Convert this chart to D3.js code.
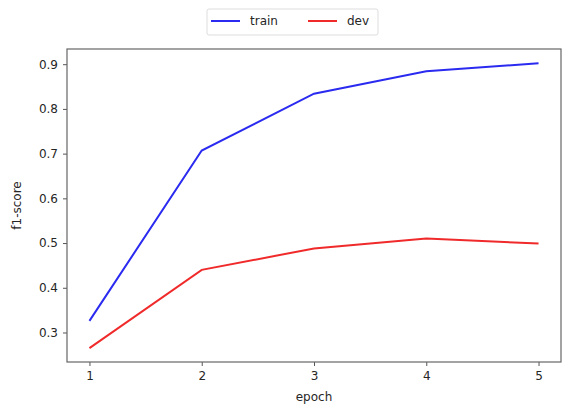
<!DOCTYPE html>
<html>
<head>
<meta charset="utf-8">
<script src="https://cdn.jsdelivr.net/npm/d3@7"></script>
<style>
  body { margin: 0; background: #fff; }
  svg text { font-family: "DejaVu Sans", sans-serif; fill: #262626; }
</style>
</head>
<body>
<svg id="chart" width="562" height="406"></svg>
<script>
var epochs = [1, 2, 3, 4, 5];
var trainScores = [0.326, 0.707, 0.834, 0.884, 0.902];
var devScores = [0.265, 0.440, 0.488, 0.510, 0.499];
var yTicks = [0.3, 0.4, 0.5, 0.6, 0.7, 0.8, 0.9];

var svg = d3.select("#chart");
var box = { left: 67, top: 49, right: 561, bottom: 362 };

var x = d3.scaleLinear().domain([0.8, 5.2]).range([box.left, box.right]);
var y = d3.scaleLinear().domain([0.234, 0.934]).range([box.bottom, box.top]);

// axes
var xAxis = svg.append("g")
  .attr("transform", "translate(0," + box.bottom + ")")
  .call(d3.axisBottom(x).tickValues(epochs).tickFormat(d3.format("d")).tickSize(4).tickPadding(5));
var yAxis = svg.append("g")
  .attr("transform", "translate(" + box.left + ",0)")
  .call(d3.axisLeft(y).tickValues(yTicks).tickFormat(d3.format(".1f")).tickSize(4).tickPadding(5));

[xAxis, yAxis].forEach(function (g) {
  g.select(".domain").remove();
  g.selectAll("line").attr("stroke", "#555");
  g.selectAll("text").attr("font-size", 12).attr("fill", "#262626");
});

svg.append("rect")
  .attr("x", box.left).attr("y", box.top)
  .attr("width", box.right - box.left).attr("height", box.bottom - box.top)
  .attr("fill", "none").attr("stroke", "#666").attr("stroke-width", 1.2);

// lines
var series = [
  { name: "train", values: trainScores, color: "#2a2af0" },
  { name: "dev", values: devScores, color: "#f02a2a" }
];
var line = d3.line()
  .x(function (d, i) { return x(epochs[i]); })
  .y(function (d) { return y(d); });

svg.selectAll("path.series")
  .data(series)
  .enter()
  .append("path")
  .attr("class", "series")
  .attr("fill", "none")
  .attr("stroke", function (d) { return d.color; })
  .attr("stroke-width", 2)
  .attr("d", function (d) { return line(d.values); });

// axis labels
svg.append("text")
  .attr("x", (box.left + box.right) / 2).attr("y", 401)
  .attr("text-anchor", "middle").attr("font-size", 12)
  .text("epoch");
svg.append("text")
  .attr("transform", "translate(21," + ((box.top + box.bottom) / 2) + ") rotate(-90)")
  .attr("text-anchor", "middle").attr("font-size", 12)
  .text("f1-score");

// legend
var legend = svg.append("g");
legend.append("rect")
  .attr("x", 207).attr("y", 9).attr("width", 171).attr("height", 26)
  .attr("rx", 2).attr("fill", "#fff").attr("stroke", "#ddd");
var items = legend.selectAll("g.item")
  .data(series)
  .enter()
  .append("g")
  .attr("class", "item")
  .attr("transform", function (d, i) { return "translate(" + (211 + i * 97) + ",21)"; });
items.append("line")
  .attr("x1", 0).attr("x2", 29)
  .attr("stroke", function (d) { return d.color; })
  .attr("stroke-width", 2);
items.append("text")
  .attr("x", 39).attr("y", 4)
  .attr("font-size", 12)
  .text(function (d) { return d.name; });
</script>
</body>
</html>
